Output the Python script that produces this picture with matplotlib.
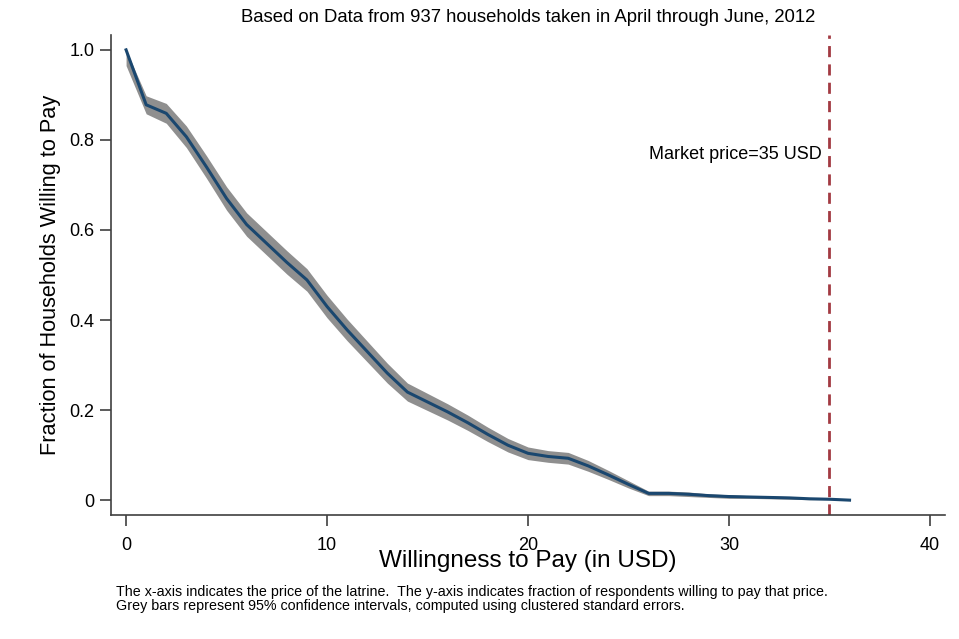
import matplotlib
matplotlib.use("Agg")
import matplotlib.pyplot as plt

plt.rcParams['font.family'] = ['Liberation Sans', 'DejaVu Sans']

price = list(range(0, 37))
fraction = [1.000, 0.878, 0.859, 0.807, 0.740, 0.670, 0.612, 0.570, 0.528, 0.489,
            0.430, 0.378, 0.330, 0.282, 0.240, 0.218, 0.196, 0.172, 0.146, 0.122,
            0.104, 0.097, 0.093, 0.076, 0.056, 0.035, 0.015, 0.015, 0.013, 0.010,
            0.008, 0.007, 0.006, 0.005, 0.003, 0.002, 0.000]
ci_half = [0.035, 0.020, 0.022, 0.024, 0.025, 0.026, 0.026, 0.026, 0.026, 0.025,
           0.025, 0.024, 0.023, 0.022, 0.020, 0.019, 0.018, 0.017, 0.016, 0.015,
           0.014, 0.013, 0.013, 0.012, 0.010, 0.008, 0.005, 0.005, 0.005, 0.004,
           0.004, 0.003, 0.003, 0.003, 0.002, 0.001, 0.000]
market_price = 35
x_ticks = [0, 10, 20, 30, 40]
y_ticks = [0, 0.2, 0.4, 0.6, 0.8, 1.0]
y_tick_labels = ["0", "0.2", "0.4", "0.6", "0.8", "1.0"]

lower = [max(f - c, 0) if i > 0 else f - c for i, (f, c) in enumerate(zip(fraction, ci_half))]
upper = [min(f + c, 1.0) for f, c in zip(fraction, ci_half)]

fig = plt.figure(figsize=(9.59, 6.39), dpi=100)
ax = fig.add_axes([111/959, 1 - 515/639, (945 - 111)/959, (515 - 35)/639])

ax.fill_between(price, lower, upper, color='#8f8f8f', linewidth=0)
ax.plot(price, fraction, color='#1a476f', linewidth=2.2, solid_joinstyle='round')
ax.axvline(market_price, ymin=0, ymax=1, color='#a23a42', linestyle=(0, (4, 2.6)), linewidth=2.0)
ax.text(market_price - 0.4, 0.767, "Market price=35 USD", ha='right', va='center', fontsize=13)

ax.set_xlim(-0.75, 40.75)
ax.set_ylim(-0.033, 1.033)
ax.set_xticks(x_ticks)
ax.set_xticklabels([str(t) for t in x_ticks])
ax.set_yticks(y_ticks)
ax.set_yticklabels(y_tick_labels)

for s in ['top', 'right']:
    ax.spines[s].set_visible(False)
for s in ['left', 'bottom']:
    ax.spines[s].set_color('#404040')
    ax.spines[s].set_linewidth(1.2)

ax.tick_params(axis='both', direction='out', length=8, width=1.2, color='#404040', labelsize=13)
ax.tick_params(axis='x', pad=8)
ax.tick_params(axis='y', pad=4)

ax.set_xlabel("Willingness to Pay (in USD)", fontsize=17.5, labelpad=-3)
ax.set_ylabel("Fraction of Households Willing to Pay", fontsize=15.7, labelpad=6)

fig.text(528/959, 1 - 18/639, "Based on Data from 937 households taken in April through June, 2012",
         ha='center', va='center', fontsize=13.3)
fig.text(116/959, 1 - 599/639,
         "The x-axis indicates the price of the latrine.  The y-axis indicates fraction of respondents willing to pay that price.\n"
         "Grey bars represent 95% confidence intervals, computed using clustered standard errors.",
         ha='left', va='center', fontsize=10.3, linespacing=0.95)

fig.savefig("out.png", dpi=100, facecolor='white')
